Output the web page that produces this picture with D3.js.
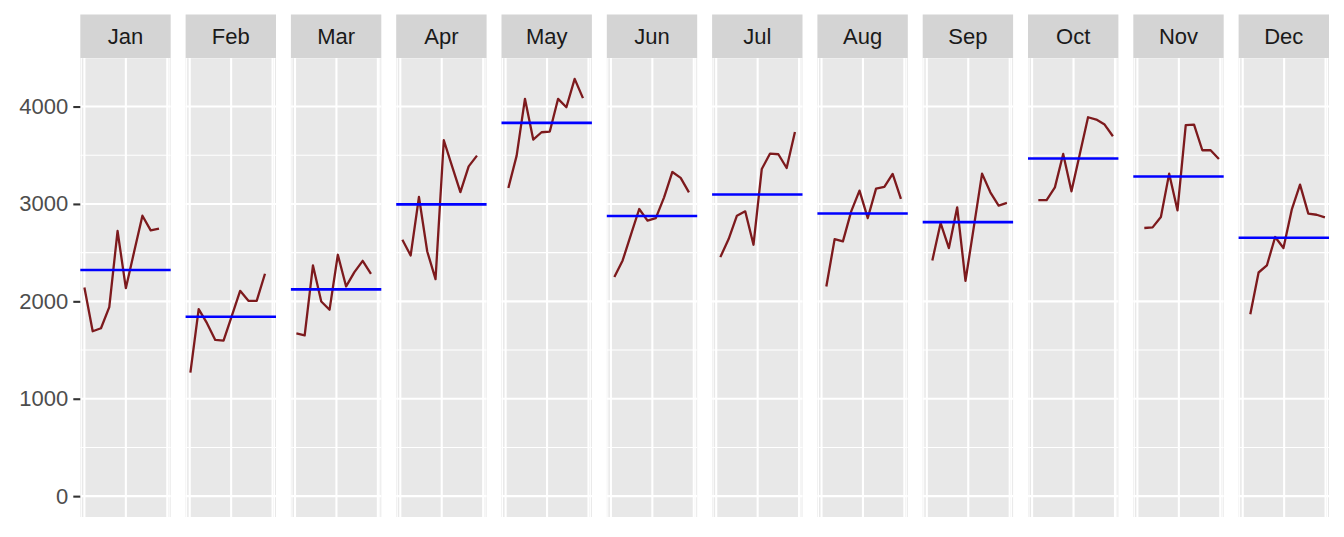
<!DOCTYPE html>
<html>
<head>
<meta charset="utf-8">
<script src="https://cdn.jsdelivr.net/npm/d3@7"></script>
<style>
  body { margin: 0; background: #fff; }
  svg { display: block; font-family: "Liberation Sans", Arial, sans-serif; }
</style>
</head>
<body>
<div id="chart"></div>
<script>
// one value per year (10 years), per month panel
const months = ["Jan", "Feb", "Mar", "Apr", "May", "Jun", "Jul", "Aug", "Sep", "Oct", "Nov", "Dec"];
const jan = [2142, 1693, 1724, 1940, 2722, 2135, 2509, 2879, 2728, 2746];
const feb = [1268, 1920, 1776, 1604, 1597, 1851, 2108, 2005, 2005, 2283];
const mar = [1670, 1650, 2368, 1998, 1913, 2478, 2153, 2300, 2416, 2283];
const apr = [2632, 2471, 3071, 2512, 2228, 3654, 3386, 3122, 3386, 3496];
const may = [3164, 3496, 4079, 3661, 3736, 3743, 4079, 3993, 4284, 4086];
const jun = [2249, 2420, 2684, 2948, 2828, 2855, 3068, 3328, 3267, 3119];
const jul = [2454, 2639, 2879, 2924, 2581, 3359, 3517, 3510, 3369, 3739];
const aug = [2152, 2639, 2615, 2924, 3136, 2855, 3157, 3174, 3308, 3051];
const sep = [2420, 2804, 2547, 2965, 2211, 2759, 3311, 3119, 2982, 3010];
const oct = [3040, 3040, 3170, 3513, 3129, 3510, 3890, 3866, 3815, 3695];
const nov = [2753, 2759, 2865, 3311, 2934, 3808, 3815, 3551, 3551, 3462];
const dec = [1868, 2296, 2368, 2660, 2547, 2941, 3198, 2900, 2889, 2862];

const yTicks = [0, 1000, 2000, 3000, 4000];
const yMinor = [500, 1500, 2500, 3500, 4500];
const xMajor = [0, 5, 10];
const xMinor = [-0.37, 10.23];

const series = [jan, feb, mar, apr, may, jun, jul, aug, sep, oct, nov, dec];

const W = 1344, H = 537;
const panelTop = 58, panelBottom = 517, stripTop = 14.5;

const svg = d3.select("#chart").append("svg")
  .attr("width", W)
  .attr("height", H);

// panels
const fx = d3.scaleBand()
  .domain(months)
  .range([80.3, 1329])
  .paddingInner(0.1415);

// time in years, shared across panels (month m of year k -> k + m/12)
const tMax = (jan.length - 1) + 11 / 12;
const tPad = tMax * 0.05;
const x = d3.scaleLinear()
  .domain([-tPad, tMax + tPad])
  .range([0, fx.bandwidth()]);

const yMax = d3.max(series.flat());
const yPad = yMax * 0.05;
const y = d3.scaleLinear()
  .domain([-yPad, yMax + yPad])
  .range([panelBottom, panelTop]);

const line = d3.line()
  .x(d => x(d.t))
  .y(d => y(d.v));

months.forEach((m, i) => {
  const vals = series[i];
  const pts = vals.map((v, k) => ({ t: k + i / 12, v }));
  const mean = d3.mean(vals);

  const g = svg.append("g").attr("transform", `translate(${fx(m)},0)`);

  g.append("rect")
    .attr("y", panelTop)
    .attr("width", fx.bandwidth())
    .attr("height", panelBottom - panelTop)
    .attr("fill", "#E8E8E8");

  // minor grid
  g.selectAll(".hmin").data(yMinor).enter().append("line")
    .attr("x1", 0).attr("x2", fx.bandwidth())
    .attr("y1", d => y(d)).attr("y2", d => y(d))
    .attr("stroke", "#fff").attr("stroke-width", 1.05);
  g.selectAll(".vmin").data(xMinor).enter().append("line")
    .attr("x1", d => x(d)).attr("x2", d => x(d))
    .attr("y1", panelTop).attr("y2", panelBottom)
    .attr("stroke", "#fff").attr("stroke-width", 1.05);

  // major grid
  g.selectAll(".hmaj").data(yTicks).enter().append("line")
    .attr("x1", 0).attr("x2", fx.bandwidth())
    .attr("y1", d => y(d)).attr("y2", d => y(d))
    .attr("stroke", "#fff").attr("stroke-width", 2.1);
  g.selectAll(".vmaj").data(xMajor).enter().append("line")
    .attr("x1", d => x(d)).attr("x2", d => x(d))
    .attr("y1", panelTop).attr("y2", panelBottom)
    .attr("stroke", "#fff").attr("stroke-width", 2.1);

  g.append("path")
    .datum(pts)
    .attr("d", line)
    .attr("fill", "none")
    .attr("stroke", "#7d1a1d")
    .attr("stroke-width", 2.3)
    .attr("stroke-linejoin", "round");

  g.append("line")
    .attr("x1", 0).attr("x2", fx.bandwidth())
    .attr("y1", y(mean)).attr("y2", y(mean))
    .attr("stroke", "#0000FF")
    .attr("stroke-width", 2.6);

  // strip
  g.append("rect")
    .attr("y", stripTop)
    .attr("width", fx.bandwidth())
    .attr("height", panelTop - stripTop)
    .attr("fill", "#D4D4D4");

  g.append("text")
    .attr("x", fx.bandwidth() / 2)
    .attr("y", (stripTop + panelTop) / 2)
    .attr("dy", "0.36em")
    .attr("text-anchor", "middle")
    .attr("fill", "#1A1A1A")
    .style("font-size", "22px")
    .text(m);
});

// y axis
const ax = svg.append("g")
  .attr("transform", `translate(${fx(months[0])},0)`)
  .call(d3.axisLeft(y).tickValues(yTicks).tickFormat(d3.format("d")).tickSize(7).tickPadding(5));
ax.select(".domain").remove();
ax.selectAll(".tick line").attr("stroke", "#333").attr("stroke-width", 2.1);
ax.selectAll(".tick text")
  .attr("fill", "#4D4D4D")
  .style("font-size", "22px")
  .style("font-family", "Liberation Sans, Arial, sans-serif");
</script>
</body>
</html>
